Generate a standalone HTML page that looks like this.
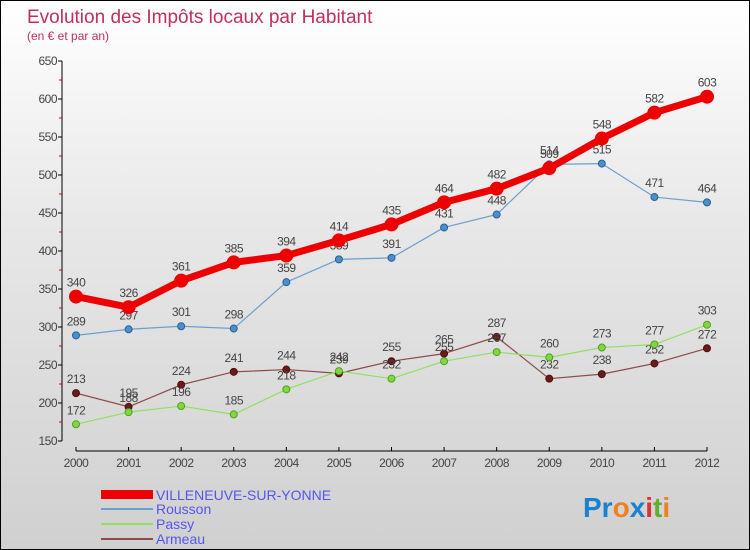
<!DOCTYPE html>
<html><head><meta charset="utf-8"><style>
html,body{margin:0;padding:0}
body{width:750px;height:550px;overflow:hidden;font-family:"Liberation Sans",sans-serif}
#wrap{position:relative;width:748px;height:548px;border:1px solid #000;background:linear-gradient(#ffffff,#e8e8e8 40%,#d0d0d0)}
</style></head><body>
<div id="wrap">
<svg id="chart" width="748" height="548" style="position:absolute;left:0;top:0">
<text x="26" y="22" font-size="19" fill="#c0305a">Evolution des Impôts locaux par Habitant</text>
<text x="26" y="39" font-size="12" fill="#c0305a">(en € et par an)</text>
<g id="axes"></g><g id="series"></g>
<g>
<rect x="100" y="489" width="52" height="9" fill="#e00"/>
<text x="155" y="499" font-size="14" fill="#5555ee">VILLENEUVE-SUR-YONNE</text>
<rect x="100" y="507" width="52" height="2" fill="#6aa0d0"/>
<text x="155" y="513" font-size="14" fill="#5555ee">Rousson</text>
<rect x="100" y="522" width="52" height="2" fill="#90e060"/>
<text x="155" y="528" font-size="14" fill="#5555ee">Passy</text>
<rect x="100" y="537" width="52" height="2" fill="#904848"/>
<text x="155" y="543" font-size="14" fill="#5555ee">Armeau</text>
</g>
<text x="582" y="516" font-size="28" font-weight="bold"><tspan fill="#1a80d0">Pr</tspan><tspan fill="#f08020">o</tspan><tspan fill="#1a80d0">x</tspan><tspan fill="#e03030">i</tspan><tspan fill="#60b030">t</tspan><tspan fill="#f08020">i</tspan></text>
</svg>
</div>
<script>
const years=[2000,2001,2002,2003,2004,2005,2006,2007,2008,2009,2010,2011,2012];
const yTicks=[150,200,250,300,350,400,450,500,550,600,650];
const villeneuve=[340,326,361,385,394,414,435,464,482,509,548,582,603];
const rousson=[289,297,301,298,359,389,391,431,448,514,515,471,464];
const passy=[172,188,196,185,218,242,232,255,267,260,273,277,303];
const armeau=[213,195,224,241,244,239,255,265,287,232,238,252,272];
const NS='http://www.w3.org/2000/svg';
function xS(i){return 75+i*(631/12);}
function yS(v){return 60+(650-v)*0.76;}
function mk(tag,attrs,parent){const e=document.createElementNS(NS,tag);for(const k in attrs)e.setAttribute(k,attrs[k]);parent.appendChild(e);return e;}
const axes=document.getElementById('axes');
let yl=mk('line',{x1:61,y1:60,x2:61,y2:440,stroke:'#000'},axes);


yTicks.forEach((t,k)=>{
  mk('line',{x1:57,y1:yS(t),x2:61,y2:yS(t),stroke:'#000'},axes);
  if(k<yTicks.length-1)mk('line',{x1:58,y1:yS(t+25),x2:61,y2:yS(t+25),stroke:'#d00'},axes);
  const tx=mk('text',{x:56,y:yS(t)+4,'font-size':12,fill:'#444','text-anchor':'end','letter-spacing':'-0.5'},axes);
  tx.textContent=t;
  
  
});
let xl=mk('line',{x1:75,y1:450,x2:706,y2:450,stroke:'#000'},axes);


years.forEach((y,i)=>{
  mk('line',{x1:xS(i),y1:446,x2:xS(i),y2:450,stroke:'#000'},axes);
  const tx=mk('text',{x:xS(i),y:466,'font-size':12,fill:'#444','text-anchor':'middle','letter-spacing':'-0.5'},axes);
  tx.textContent=y;
  
  
});
const sg=document.getElementById('series');
function draw(vals,name,color,w,r,dot,dotStroke){
  const g=mk('g',{},sg);
  
  
  const p=mk('polyline',{points:vals.map((v,i)=>xS(i)+','+yS(v)).join(' '),fill:'none',stroke:color,'stroke-width':w,'stroke-linejoin':'round'},g);
  
  
  vals.forEach((v,i)=>{
    const c=mk('circle',{cx:xS(i),cy:yS(v),r:r,fill:dot,stroke:dotStroke,'stroke-width':1},g);
    
    
    const t=mk('text',{x:xS(i),y:yS(v)-10,'font-size':12,fill:'#444','text-anchor':'middle','letter-spacing':'-0.5'},g);
    t.textContent=v;
    
    
  });
}
draw(armeau,'armeau','#904848',1.2,3.5,'#6a1a1a','#501010');
draw(passy,'passy','#90e060',1.2,3.5,'#80d840','#50a020');
draw(rousson,'rousson','#6aa0d0',1.2,3.5,'#4a90d0','#2a6090');
draw(villeneuve,'villeneuve','#ee0000',7,6.5,'#ee0000','#ee0000');
</script>
</body></html>
